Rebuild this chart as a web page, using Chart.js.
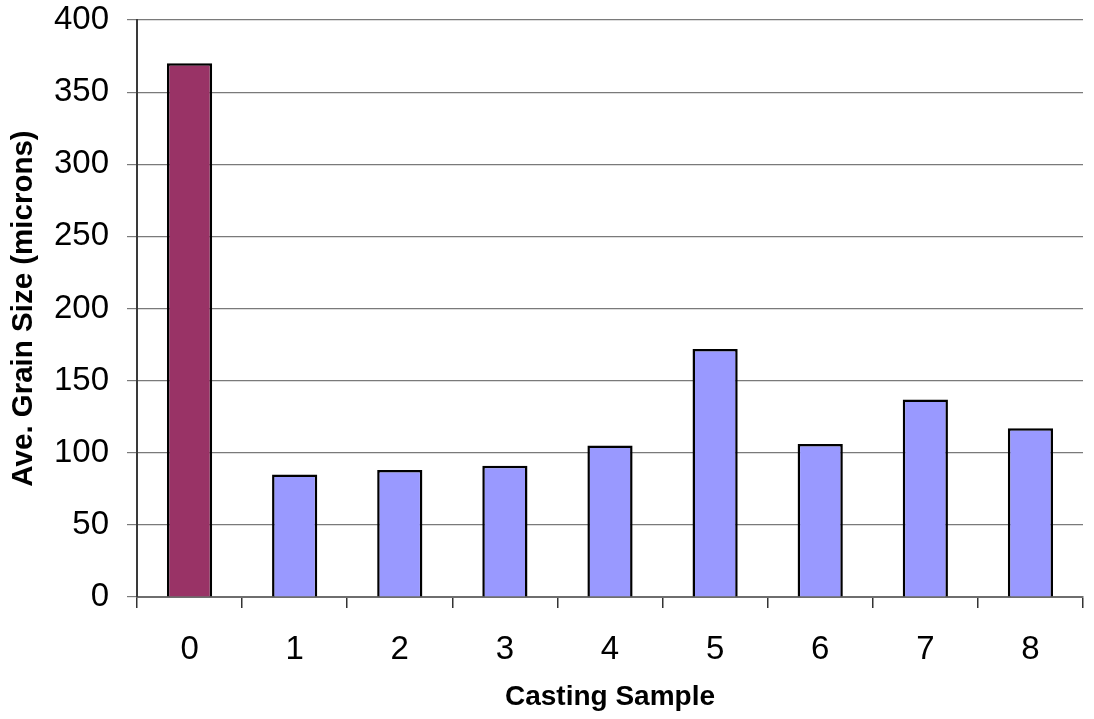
<!DOCTYPE html>
<html>
<head>
<meta charset="utf-8">
<script src="https://cdn.jsdelivr.net/npm/chart.js@4"></script>
<style>
  html, body { margin: 0; padding: 0; background: #ffffff; }
  #wrap { width: 1094px; height: 719px; }
</style>
</head>
<body>
<div id="wrap"><canvas id="c" width="1094" height="719"></canvas></div>
<script>
// Average grain size per casting sample
const samples = ['0', '1', '2', '3', '4', '5', '6', '7', '8'];
const grainSize = [370, 85, 88, 91, 105, 172, 106, 137, 117];
const barColors = ['#993366', '#9999FF', '#9999FF', '#9999FF', '#9999FF', '#9999FF', '#9999FF', '#9999FF', '#9999FF'];

const FONT = "'Liberation Sans', Arial, sans-serif";

new Chart(document.getElementById('c'), {
  type: 'bar',
  data: {
    labels: samples,
    datasets: [{
      data: grainSize,
      backgroundColor: barColors,
      borderColor: '#000000',
      borderWidth: 2.5,
      categoryPercentage: 1,
      barPercentage: 0.43
    }]
  },
  options: {
    responsive: false,
    animation: false,
    devicePixelRatio: 1,
    layout: { padding: { top: 20, right: 11, bottom: 0, left: 0 } },
    plugins: { legend: { display: false }, tooltip: { enabled: false } },
    scales: {
      x: {
        offset: true,
        grid: {
          offset: true,
          drawOnChartArea: false,
          drawTicks: true,
          tickLength: 11,
          color: '#333333',
          lineWidth: 1.5
        },
        border: { color: '#6e6e6e', width: 2 },
        ticks: {
          color: '#000000',
          padding: 22,
          font: { family: FONT, size: 33 }
        },
        title: {
          display: true,
          text: 'Casting Sample',
          color: '#000000',
          padding: { top: 0, bottom: 5 },
          font: { family: FONT, size: 28, weight: 'bold' }
        },
        afterFit: (s) => { s.height = 122; }
      },
      y: {
        min: 0,
        max: 400,
        grid: {
          color: '#7a7a7a',
          lineWidth: 1.2,
          tickLength: 10,
          drawTicks: true
        },
        border: { color: '#3a3a3a', width: 2 },
        ticks: {
          stepSize: 50,
          color: '#000000',
          padding: 18,
          font: { family: FONT, size: 33 }
        },
        title: {
          display: true,
          text: 'Ave. Grain Size (microns)',
          color: '#000000',
          padding: { top: 6, bottom: 0 },
          font: { family: FONT, size: 29.5, weight: 'bold' }
        },
        afterFit: (s) => {
          s.width = 137;
          s.paddingTop = 0;
          s.paddingBottom = 0;
        }
      }
    }
  }
});
</script>
</body>
</html>
